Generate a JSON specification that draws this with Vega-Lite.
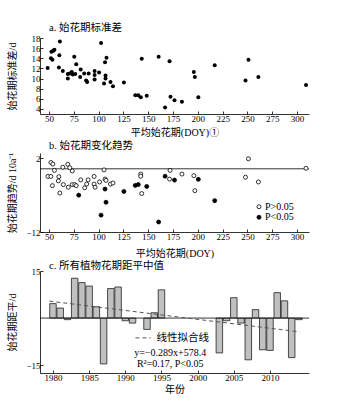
{
  "$schema": "https://vega.github.io/schema/vega-lite/v6.json",
  "background": "white",
  "padding": {"left": 6, "top": 22, "right": 5, "bottom": 5},
  "bounds": "full",
  "spacing": 3,
  "config": {
    "font": "Liberation Serif, Noto Sans CJK SC",
    "view": {"stroke": null},
    "axis": {
      "domainColor": "#000", "tickColor": "#000", "labelColor": "#000", "titleColor": "#000",
      "grid": false, "labelFontSize": 9, "titleFontSize": 10, "titleFontWeight": "normal",
      "tickSize": -3, "labelPadding": 3, "domainWidth": 0.8, "tickWidth": 0.8, "labelOverlap": false,
      "labelFont": "Liberation Serif", "titleFont": "Liberation Serif, Noto Sans CJK SC"
    },
    "title": {"fontSize": 10.5, "fontWeight": "normal", "anchor": "start", "frame": "group", "color": "#000", "font": "Liberation Serif, Noto Sans CJK SC"}
  },
  "vconcat": [
    {
      "width": 269, "height": 76,
      "title": {"text": "a. 始花期标准差", "dx": 9, "offset": 1},
      "layer": [
        {
          "data": {"values": [
            {"doy": 48.7, "sd": 12.1}, {"doy": 52, "sd": 14.0}, {"doy": 53.5, "sd": 13.7}, {"doy": 52.5, "sd": 15.3},
            {"doy": 54.5, "sd": 15.5}, {"doy": 55.5, "sd": 15.7}, {"doy": 61, "sd": 17.3}, {"doy": 60.5, "sd": 14.6},
            {"doy": 60, "sd": 12.2}, {"doy": 64, "sd": 11.5}, {"doy": 69, "sd": 10.9}, {"doy": 69, "sd": 10.0},
            {"doy": 71, "sd": 11.0}, {"doy": 73, "sd": 11.3}, {"doy": 74, "sd": 10.8}, {"doy": 75.5, "sd": 14.3},
            {"doy": 76.5, "sd": 10.9}, {"doy": 77.5, "sd": 12.8}, {"doy": 82, "sd": 11.8}, {"doy": 81.5, "sd": 10.3},
            {"doy": 85.5, "sd": 11.0}, {"doy": 87.5, "sd": 9.6}, {"doy": 88.5, "sd": 9.3}, {"doy": 90, "sd": 11.0},
            {"doy": 96, "sd": 11.5}, {"doy": 96, "sd": 10.7}, {"doy": 96, "sd": 9.8}, {"doy": 100.5, "sd": 11.2},
            {"doy": 102.5, "sd": 17.0}, {"doy": 105.5, "sd": 9.0}, {"doy": 106.5, "sd": 13.2}, {"doy": 107, "sd": 10.6},
            {"doy": 107, "sd": 10.0}, {"doy": 108, "sd": 14.1}, {"doy": 112, "sd": 9.3}, {"doy": 114.5, "sd": 8.5},
            {"doy": 125.5, "sd": 9.2}, {"doy": 137, "sd": 6.7}, {"doy": 140, "sd": 6.7}, {"doy": 142.5, "sd": 6.3},
            {"doy": 143.5, "sd": 13.9}, {"doy": 148.5, "sd": 6.6}, {"doy": 160.5, "sd": 14.3}, {"doy": 167, "sd": 4.3},
            {"doy": 171.5, "sd": 13.4}, {"doy": 172.5, "sd": 6.4}, {"doy": 176.5, "sd": 5.7}, {"doy": 184, "sd": 5.4},
            {"doy": 196, "sd": 11.3}, {"doy": 197, "sd": 10.3}, {"doy": 200.5, "sd": 6.3}, {"doy": 217, "sd": 12.6},
            {"doy": 248, "sd": 9.6}, {"doy": 251, "sd": 13.7}, {"doy": 261, "sd": 10.3}, {"doy": 309, "sd": 8.7}
          ]},
          "mark": {"type": "circle", "size": 16, "color": "#000", "opacity": 1},
          "encoding": {
            "x": {"field": "doy", "type": "quantitative", "scale": {"domain": [41, 312], "nice": false, "zero": false},
                  "axis": {"values": [50, 75, 100, 125, 150, 175, 200, 225, 250, 275, 300], "title": "平均始花期(DOY)①", "titlePadding": 4}},
            "y": {"field": "sd", "type": "quantitative", "scale": {"domain": [3, 18], "nice": false, "zero": false},
                  "axis": {"values": [4, 6, 8, 10, 12, 14, 16, 18], "title": "始花期标准差/d", "titleX": -28, "titleBaseline": "middle"}}
          }
        }
      ]
    },
    {
      "width": 269, "height": 79,
      "title": {"text": "b. 始花期变化趋势", "dx": 9, "offset": 1},
      "layer": [
        {
          "data": {"values": [{}]},
          "mark": {"type": "rule", "color": "#000", "strokeWidth": 0.8},
          "encoding": {"y": {"datum": 0}}
        },
        {
          "data": {"values": [
            {"doy": 49, "tr": -1.45, "p": "P>0.05"}, {"doy": 52, "tr": -1.45, "p": "P>0.05"}, {"doy": 52, "tr": 1.2, "p": "P>0.05"},
            {"doy": 54, "tr": 0.9, "p": "P>0.05"}, {"doy": 53.5, "tr": -3.2, "p": "P>0.05"}, {"doy": 55.5, "tr": -0.3, "p": "P>0.05"},
            {"doy": 60, "tr": -1.5, "p": "P>0.05"}, {"doy": 59.5, "tr": -2.3, "p": "P>0.05"}, {"doy": 61, "tr": -4.6, "p": "P>0.05"},
            {"doy": 64, "tr": 0.3, "p": "P>0.05"}, {"doy": 64.5, "tr": -3.0, "p": "P>0.05"}, {"doy": 69, "tr": 0.85, "p": "P>0.05"},
            {"doy": 69.5, "tr": -3.5, "p": "P>0.05"}, {"doy": 71, "tr": 0.2, "p": "P>0.05"}, {"doy": 73.5, "tr": -0.4, "p": "P>0.05"},
            {"doy": 73.5, "tr": -3.0, "p": "P>0.05"}, {"doy": 76, "tr": -3.0, "p": "P>0.05"}, {"doy": 77.5, "tr": -3.2, "p": "P>0.05"},
            {"doy": 82, "tr": -2.1, "p": "P>0.05"}, {"doy": 86, "tr": -3.6, "p": "P>0.05"}, {"doy": 88, "tr": -2.9, "p": "P>0.05"},
            {"doy": 89.5, "tr": -2.1, "p": "P>0.05"}, {"doy": 95.5, "tr": -1.45, "p": "P>0.05"}, {"doy": 95.5, "tr": -2.9, "p": "P>0.05"},
            {"doy": 96.5, "tr": -3.5, "p": "P>0.05"}, {"doy": 101, "tr": -2.5, "p": "P>0.05"}, {"doy": 105.5, "tr": -0.2, "p": "P>0.05"},
            {"doy": 106.5, "tr": -1.95, "p": "P>0.05"}, {"doy": 107.5, "tr": -2.2, "p": "P>0.05"}, {"doy": 112, "tr": -2.9, "p": "P>0.05"},
            {"doy": 114.5, "tr": -2.7, "p": "P>0.05"}, {"doy": 142.5, "tr": -1.0, "p": "P>0.05"}, {"doy": 142.5, "tr": -1.4, "p": "P>0.05"},
            {"doy": 143.5, "tr": -4.7, "p": "P>0.05"}, {"doy": 172, "tr": -0.3, "p": "P>0.05"}, {"doy": 171.5, "tr": -1.95, "p": "P>0.05"},
            {"doy": 184, "tr": -1.0, "p": "P>0.05"}, {"doy": 196, "tr": -1.3, "p": "P>0.05"}, {"doy": 197, "tr": -4.15, "p": "P>0.05"},
            {"doy": 248, "tr": -1.6, "p": "P>0.05"}, {"doy": 251, "tr": 1.9, "p": "P>0.05"}, {"doy": 261, "tr": -2.5, "p": "P>0.05"},
            {"doy": 309, "tr": 0.1, "p": "P>0.05"},
            {"doy": 80, "tr": -5.0, "p": "P<0.05"}, {"doy": 102.5, "tr": -8.8, "p": "P<0.05"}, {"doy": 106.5, "tr": -3.85, "p": "P<0.05"},
            {"doy": 107.5, "tr": -6.35, "p": "P<0.05"}, {"doy": 125.5, "tr": -4.3, "p": "P<0.05"}, {"doy": 137, "tr": -3.15, "p": "P<0.05"},
            {"doy": 140, "tr": -3.0, "p": "P<0.05"}, {"doy": 148.5, "tr": -3.35, "p": "P<0.05"}, {"doy": 160.5, "tr": -10.1, "p": "P<0.05"},
            {"doy": 167, "tr": -1.4, "p": "P<0.05"}, {"doy": 176.5, "tr": -2.15, "p": "P<0.05"}, {"doy": 200.5, "tr": -2.0, "p": "P<0.05"},
            {"doy": 217, "tr": -6.05, "p": "P<0.05"},
            {"doy": 261.6, "tr": -7.2, "p": "P>0.05", "lab": "P>0.05"},
            {"doy": 261.6, "tr": -9.2, "p": "P<0.05", "lab": "P<0.05"}
          ]},
          "encoding": {
            "x": {"field": "doy", "type": "quantitative", "scale": {"domain": [41, 312], "nice": false, "zero": false},
                  "axis": {"values": [50, 75, 100, 125, 150, 175, 200, 225, 250, 275, 300], "title": "平均始花期(DOY)", "titlePadding": 7}},
            "y": {"field": "tr", "type": "quantitative", "scale": {"domain": [-12, 3], "nice": false, "zero": false},
                  "axis": {"values": [-12, -10, -8, -6, -4, -2, 0, 2], "title": "始花期趋势/d 10a⁻¹", "titleX": -28, "titleBaseline": "middle"}}
          },
          "layer": [
            {
              "mark": {"type": "point", "shape": "circle", "filled": true, "size": 16, "stroke": "#000", "strokeWidth": 0.8, "opacity": 1},
              "encoding": {
                "fill": {"field": "p", "type": "nominal", "scale": {"domain": ["P>0.05", "P<0.05"], "range": ["#fff", "#000"]}, "legend": null}
              }
            },
            {
              "transform": [{"filter": "datum.lab != null"}],
              "mark": {"type": "text", "align": "left", "baseline": "middle", "dx": 6, "fontSize": 10, "font": "Liberation Serif", "color": "#000"},
              "encoding": {"text": {"field": "lab"}}
            }
          ]
        }
      ]
    },
    {
      "width": 269, "height": 102,
      "title": {"text": "c. 所有植物花期距平中值", "dx": 9, "offset": -4.5},
      "layer": [
        {
          "data": {"values": [
            {"year": 1980, "v": 4.6}, {"year": 1981, "v": 3.2}, {"year": 1982, "v": -0.5}, {"year": 1983, "v": 12.7},
            {"year": 1984, "v": 11.3}, {"year": 1985, "v": 10.2}, {"year": 1986, "v": 3.6}, {"year": 1987, "v": -14.6},
            {"year": 1988, "v": 9.4}, {"year": 1989, "v": 9.9}, {"year": 1990, "v": -0.85}, {"year": 1991, "v": -1.6},
            {"year": 1993, "v": -3.6}, {"year": 1994, "v": 1.7}, {"year": 1995, "v": 9.0}, {"year": 2003, "v": -11.1},
            {"year": 2004, "v": -0.85}, {"year": 2005, "v": 6.5}, {"year": 2006, "v": -1.6}, {"year": 2007, "v": -13.3},
            {"year": 2008, "v": 2.7}, {"year": 2009, "v": -10.1}, {"year": 2010, "v": -10.3}, {"year": 2011, "v": 8.1},
            {"year": 2012, "v": 5.5}, {"year": 2013, "v": -12.6}, {"year": 2014, "v": -0.5}
          ]},
          "mark": {"type": "bar", "size": 6.5, "fill": "#c0c0c0", "stroke": "#222", "strokeWidth": 0.8},
          "encoding": {
            "x": {"field": "year", "type": "quantitative", "scale": {"domain": [1978.9, 2014.7], "nice": false, "zero": false},
                  "axis": {"values": [1980, 1985, 1990, 1995, 2000, 2005, 2010], "format": "d", "title": "年份", "titlePadding": 2}},
            "y": {"field": "v", "type": "quantitative", "scale": {"domain": [-17.5, 15], "nice": false, "zero": false},
                  "axis": {"values": [-15, -10, -5, 0, 5, 10, 15], "title": "始花期距平/d", "titleX": -28, "titleBaseline": "middle"}}
          }
        },
        {
          "data": {"values": [{}]},
          "mark": {"type": "rule", "color": "#000", "strokeWidth": 0.8},
          "encoding": {"y": {"datum": 0}}
        },
        {
          "data": {"values": [
            {"year": 1979.5, "v": 5.4, "s": "fit"}, {"year": 2014.1, "v": -4.4, "s": "fit"},
            {"year": 1991.4, "v": -6.3, "s": "key"}, {"year": 1993.5, "v": -6.3, "s": "key"}
          ]},
          "mark": {"type": "line", "color": "#555", "strokeWidth": 1, "strokeDash": [4, 3]},
          "encoding": {
            "x": {"field": "year", "type": "quantitative"},
            "y": {"field": "v", "type": "quantitative"},
            "detail": {"field": "s"}
          }
        },
        {
          "data": {"values": [
            {"year": 1994.3, "v": -6.3, "t": "线性拟合线", "a": "left"},
            {"year": 1996.2, "v": -11.1, "t": "y=−0.289x+578.4", "a": "center"},
            {"year": 1996.2, "v": -14.6, "t": "R²=0.17, P<0.05", "a": "center"}
          ]},
          "layer": [
            {
              "transform": [{"filter": "datum.a == 'left'"}],
              "mark": {"type": "text", "fontSize": 10.5, "color": "#000", "align": "left", "baseline": "middle", "font": "Liberation Serif, Noto Sans CJK SC"},
              "encoding": {"x": {"field": "year", "type": "quantitative"}, "y": {"field": "v", "type": "quantitative"}, "text": {"field": "t"}}
            },
            {
              "transform": [{"filter": "datum.a == 'center'"}],
              "mark": {"type": "text", "fontSize": 10, "color": "#000", "align": "center", "baseline": "middle", "font": "Liberation Serif"},
              "encoding": {"x": {"field": "year", "type": "quantitative"}, "y": {"field": "v", "type": "quantitative"}, "text": {"field": "t"}}
            }
          ]
        }
      ]
    }
  ]
}
